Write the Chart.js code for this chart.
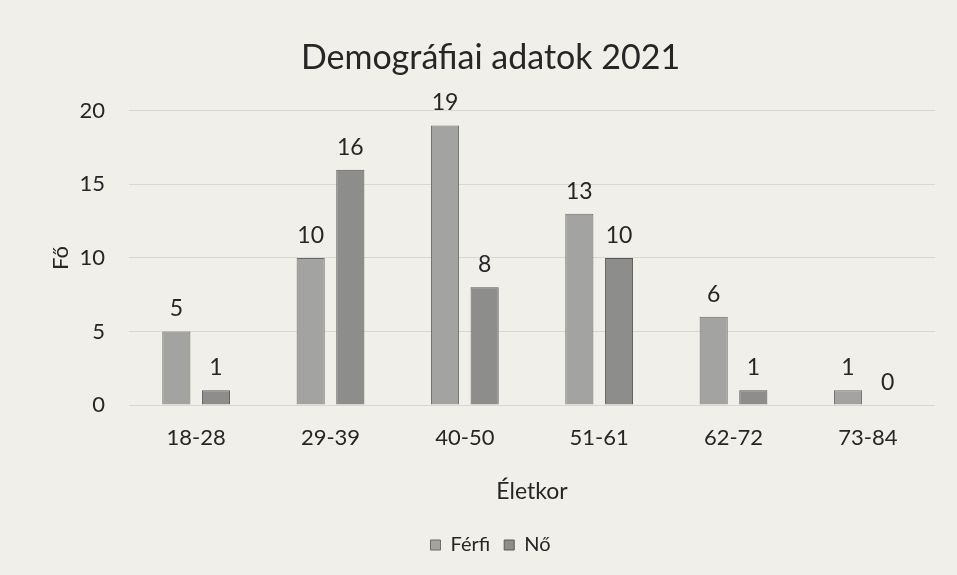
<!DOCTYPE html>
<html><head><meta charset="utf-8">
<script src="https://cdn.jsdelivr.net/npm/chart.js@4/dist/chart.umd.min.js"></script>
<style>
html,body{margin:0;padding:0;background:#f0efe9;}
#wrap{width:957px;height:575px;position:relative;}
</style></head>
<body><div id="wrap"><canvas id="c" width="957" height="575"></canvas></div>
<script>
const categories = ['18-28','29-39','40-50','51-61','62-72','73-84'];
const ferfi = [5, 10, 19, 13, 6, 1];
const no = [1, 16, 8, 10, 1, 0];
const seriesNames = ['Férfi','Nő'];
const yTicks = [0, 5, 10, 15, 20];

const FONT = 'Lato, "Open Sans", sans-serif';
const TEXT = '#262626';

const labelPlugin = {
  id: 'valueLabels',
  afterDatasetsDraw(chart) {
    const ctx = chart.ctx;
    ctx.save();
    ctx.font = '23px ' + FONT;
    ctx.fillStyle = TEXT;
    ctx.textAlign = 'center';
    ctx.textBaseline = 'bottom';
    chart.data.datasets.forEach((ds, i) => {
      chart.getDatasetMeta(i).data.forEach((bar, j) => {
        ctx.fillText(String(ds.data[j]), bar.x, bar.y - 11);
      });
    });
    ctx.restore();
  }
};
const bgPlugin = {
  id: 'bg',
  beforeDraw(chart) {
    const ctx = chart.ctx;
    ctx.save();
    ctx.fillStyle = '#f0efe9';
    ctx.fillRect(0, 0, chart.width, chart.height);
    ctx.restore();
  }
};

new Chart(document.getElementById('c'), {
  type: 'bar',
  data: {
    labels: categories,
    datasets: [
      { label: seriesNames[0], data: ferfi, backgroundColor: '#a3a3a1', borderColor: '#6a6a68', borderWidth: 1,
        categoryPercentage: 0.59, barPercentage: 0.71 },
      { label: seriesNames[1], data: no, backgroundColor: '#8d8d8b', borderColor: '#5a5a58', borderWidth: 1,
        categoryPercentage: 0.59, barPercentage: 0.71 }
    ]
  },
  options: {
    responsive: false,
    animation: false,
    devicePixelRatio: 1,
    layout: { padding: { left: 46, right: 22, top: 20, bottom: 10 } },
    plugins: {
      title: { display: true, text: 'Demográfiai adatok 2021', color: TEXT,
        font: { family: FONT, size: 34, weight: 'normal' }, padding: { top: 18, bottom: 32 } },
      legend: { position: 'bottom', labels: { color: TEXT, boxWidth: 10, boxHeight: 10,
        font: { family: FONT, size: 20 }, padding: 14 } },
      tooltip: { enabled: false }
    },
    scales: {
      x: {
        grid: { display: false },
        border: { display: false },
        ticks: { color: TEXT, font: { family: FONT, size: 22 }, padding: 12 },
        title: { display: true, text: 'Életkor', color: TEXT, font: { family: FONT, size: 23 }, padding: { top: 14, bottom: 16 } }
      },
      y: {
        min: 0, max: 20,
        afterBuildTicks(axis) { axis.ticks = yTicks.map(v => ({ value: v })); },
        afterFit(axis) { axis.width = 83; },
        grid: { color: '#d8d7d1', lineWidth: 1, drawTicks: false },
        border: { display: false },
        ticks: { color: TEXT, font: { family: FONT, size: 22 }, padding: 24 },
        title: { display: true, text: 'Fő', color: TEXT, font: { family: FONT, size: 22 }, padding: { top: 2, bottom: 4 } }
      }
    }
  },
  plugins: [bgPlugin, labelPlugin]
});
</script></body></html>
